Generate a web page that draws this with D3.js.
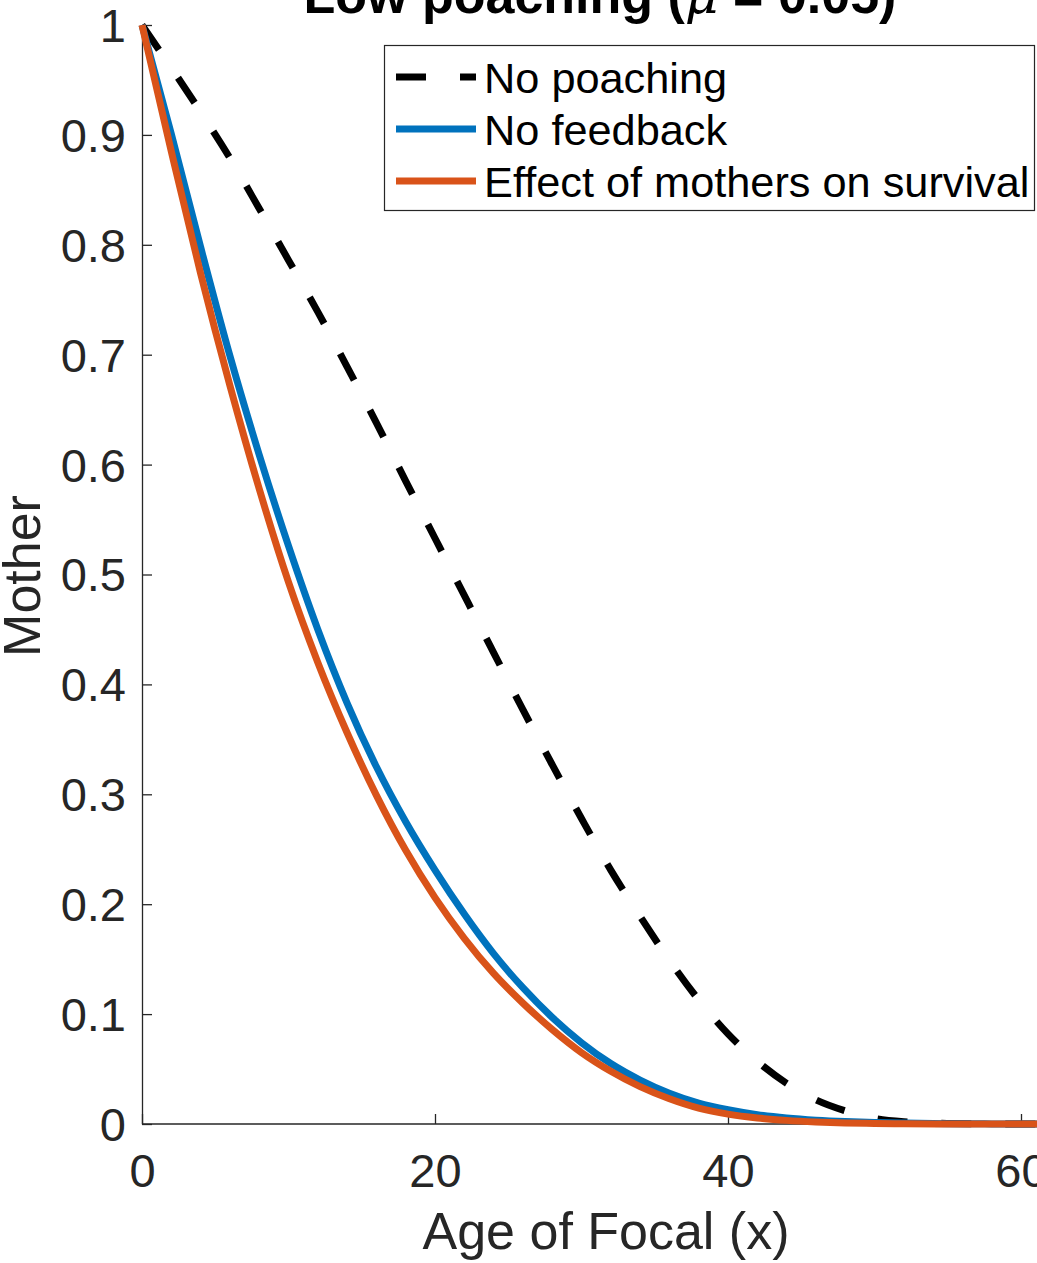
<!DOCTYPE html>
<html>
<head>
<meta charset="utf-8">
<script src="https://cdn.jsdelivr.net/npm/d3@7"></script>
<style>
  html, body { margin: 0; padding: 0; background: #ffffff; overflow: hidden; }
  svg { display: block; font-family: "Liberation Sans", Arial, Helvetica, sans-serif; }
</style>
</head>
<body>
<svg id="chart" width="1037" height="1263"></svg>
<script>
// Age of Focal (years)
const ageYears = [0, 2, 4, 6, 8, 10, 12, 14, 16, 18, 20, 22, 24, 26, 28, 30, 32, 34, 36, 38, 40,
                  42, 44, 46, 48, 50, 52, 55, 58, 60, 64];

// Probability that the mother is alive, by scenario
const noPoaching = [1.000, 0.961, 0.921, 0.879, 0.833, 0.786, 0.739, 0.689, 0.638, 0.585, 0.533,
                    0.481, 0.429, 0.377, 0.327, 0.278, 0.231, 0.189, 0.149, 0.113, 0.082,
                    0.057, 0.037, 0.022, 0.012, 0.005, 0.002, 0.0005, 0.0001, 0.0, 0.0];
const noFeedback = [1.000, 0.901, 0.798, 0.699, 0.609, 0.526, 0.450, 0.383, 0.325, 0.275, 0.231,
                    0.191, 0.155, 0.124, 0.097, 0.074, 0.055, 0.040, 0.028, 0.019, 0.013,
                    0.0085, 0.0055, 0.0035, 0.0022, 0.0014, 0.0008, 0.0003, 0.0001, 0.00005, 0.0];
const motherEffect = [1.000, 0.885, 0.774, 0.672, 0.578, 0.493, 0.420, 0.356, 0.299, 0.249, 0.206,
                      0.169, 0.137, 0.110, 0.086, 0.065, 0.048, 0.034, 0.023, 0.0145, 0.009,
                      0.0055, 0.0033, 0.0019, 0.001, 0.0005, 0.0002, 0.00005, 0.0, 0.0, 0.0];

const xTicks = [0, 20, 40, 60];
const yTicks = [0, 0.1, 0.2, 0.3, 0.4, 0.5, 0.6, 0.7, 0.8, 0.9, 1];

const seriesNames = ["No poaching", "No feedback", "Effect of mothers on survival"];
const titleMain = "Low poaching (";
const titleSymbol = "\u03BC";
const titleTail = " = 0.05)";
const xLabel = "Age of Focal (x)";
const yLabel = "Mother";

const axisColor = "#262626";
const blue = "#0072BD";
const orange = "#D95319";
const lineWidth = 7;

const svg = d3.select("#chart");

const x = d3.scaleLinear().domain([0, 62]).range([142, 142 + 62 * 14.65]);
const y = d3.scaleLinear().domain([0, 1]).range([1124, 25]);

// Axes: ticks point inward, no box
const xAxis = d3.axisBottom(x).tickValues(xTicks).tickSizeInner(-10).tickSizeOuter(0)
  .tickPadding(30).tickFormat(d3.format("d"));
const yAxis = d3.axisLeft(y).tickValues(yTicks).tickSizeInner(-10).tickSizeOuter(0)
  .tickPadding(16).tickFormat(d => d === 0 || d === 1 ? String(d) : d3.format(".1f")(d));

const gx = svg.append("g").attr("transform", `translate(0,${y(0)})`).call(xAxis);
gx.select(".domain").attr("d", `M${x(0)},0H1037`);
const gy = svg.append("g").attr("transform", `translate(${x(0)},0)`).call(yAxis);

[gx, gy].forEach(g => {
  g.select(".domain").attr("stroke", axisColor).attr("stroke-width", 1.3);
  g.selectAll(".tick line").attr("stroke", axisColor).attr("stroke-width", 1.3);
  g.selectAll(".tick text").attr("fill", axisColor).attr("font-size", 47)
    .attr("font-family", "'Liberation Sans', Arial, sans-serif");
});
gx.selectAll(".tick text").attr("dy", "0.71em");
gy.selectAll(".tick text").attr("dy", "0.35em");

// Curves, drawn in legend order so the later ones sit on top
const line = d3.line().curve(d3.curveMonotoneX);
const pts = vals => ageYears.map((a, i) => [x(a), y(vals[i])]);

svg.append("path").attr("d", line(pts(noPoaching)))
  .attr("fill", "none").attr("stroke", "#000000").attr("stroke-width", lineWidth)
  .attr("stroke-dasharray", "30 34");
svg.append("path").attr("d", line(pts(noFeedback)))
  .attr("fill", "none").attr("stroke", blue).attr("stroke-width", lineWidth);
svg.append("path").attr("d", line(pts(motherEffect)))
  .attr("fill", "none").attr("stroke", orange).attr("stroke-width", lineWidth);

// Axis labels and title
svg.append("text").attr("x", 606).attr("y", 1249)
  .attr("text-anchor", "middle").attr("font-size", 52).attr("fill", axisColor)
  .text(xLabel);

svg.append("text").attr("transform", "translate(40,576) rotate(-90)")
  .attr("text-anchor", "middle").attr("font-size", 52).attr("fill", axisColor)
  .text(yLabel);

const title = svg.append("text").attr("x", 600).attr("y", 13)
  .attr("text-anchor", "middle").attr("font-size", 52).attr("font-weight", "bold")
  .attr("fill", "#000000");
title.append("tspan").text(titleMain);
title.append("tspan").attr("font-style", "italic").attr("font-weight", "normal")
  .attr("font-family", "'DejaVu Serif', serif").text(titleSymbol);
title.append("tspan").text(titleTail);

// Legend
const legend = svg.append("g");
legend.append("rect").attr("x", 384.5).attr("y", 45.5).attr("width", 650).attr("height", 165)
  .attr("fill", "#ffffff").attr("stroke", axisColor).attr("stroke-width", 1.2);

const legendStyles = [
  { color: "#000000", dash: "30 34" },
  { color: blue, dash: null },
  { color: orange, dash: null }
];
seriesNames.forEach((name, i) => {
  const base = 93 + i * 52;
  const ly = base - 16;
  const ln = legend.append("line").attr("x1", 396).attr("x2", 476)
    .attr("y1", ly).attr("y2", ly)
    .attr("stroke", legendStyles[i].color).attr("stroke-width", lineWidth);
  if (legendStyles[i].dash) ln.attr("stroke-dasharray", legendStyles[i].dash);
  legend.append("text").attr("x", 484).attr("y", base)
    .attr("font-size", 43.3).attr("fill", "#000000").text(name);
});
</script>
</body>
</html>
